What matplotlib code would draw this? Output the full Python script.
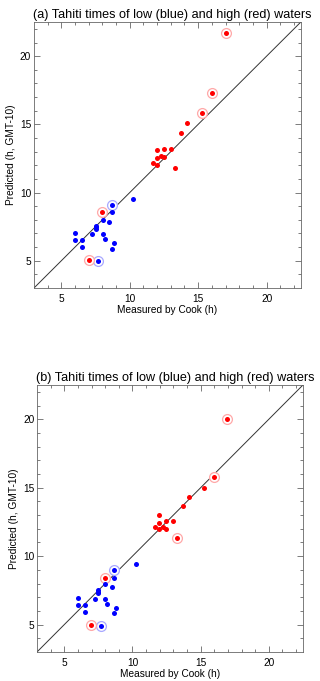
import numpy as np
import matplotlib
matplotlib.use('Agg')
import matplotlib.pyplot as plt

plt.rcParams['font.family'] = ['Liberation Sans', 'DejaVu Sans']

# panel (a): high waters (red)
red_x_a = [17.0, 16.02, 15.27, 14.19, 13.75, 13.02, 12.51, 12.02, 12.26, 12.51, 12.02, 11.68, 12.02, 13.29, 8.0, 7.02]
red_y_a = [21.68, 17.29, 15.82, 15.07, 14.39, 13.22, 13.17, 13.12, 12.66, 12.63, 12.53, 12.2, 12.05, 11.8, 8.54, 5.07]
red_ring_a = [1, 1, 1, 0, 0, 0, 0, 0, 0, 0, 0, 0, 0, 0, 1, 1]
# panel (a): low waters (blue)
blue_x_a = [10.26, 8.68, 8.68, 8.02, 8.49, 7.51, 7.51, 7.51, 6.0, 7.27, 8.02, 8.19, 6.0, 6.53, 8.85, 6.51, 8.68, 7.7]
blue_y_a = [9.51, 9.12, 8.54, 8.0, 7.83, 7.55, 7.45, 7.35, 7.05, 6.97, 6.93, 6.58, 6.51, 6.49, 6.27, 6.0, 5.9, 4.98]
blue_ring_a = [0, 1, 0, 0, 0, 0, 0, 0, 0, 0, 0, 0, 0, 0, 0, 0, 0, 1]

# panel (b)
red_x_b = [16.97, 15.97, 15.24, 14.17, 13.73, 11.98, 12.97, 12.49, 11.98, 11.63, 12.24, 11.98, 12.49, 13.24, 7.97, 6.95]
red_y_b = [20.04, 15.78, 15.0, 14.32, 13.66, 13.02, 12.56, 12.56, 12.44, 12.14, 12.14, 12.0, 12.0, 11.34, 8.44, 5.0]
red_ring_b = [1, 1, 0, 0, 0, 0, 0, 0, 0, 0, 0, 0, 0, 1, 1, 1]
blue_x_b = [10.24, 8.68, 8.68, 8.0, 8.49, 7.49, 7.49, 7.49, 5.98, 7.24, 8.0, 8.15, 5.98, 6.49, 8.83, 6.49, 8.66, 7.66]
blue_y_b = [9.46, 9.02, 8.44, 7.95, 7.75, 7.5, 7.4, 7.3, 6.97, 6.88, 6.85, 6.53, 6.46, 6.44, 6.2, 5.93, 5.85, 4.88]
blue_ring_b = [0, 1, 0, 0, 0, 0, 0, 0, 0, 0, 0, 0, 0, 0, 0, 0, 0, 1]

lims = [3, 22.5]
major_ticks = [5, 10, 15, 20]


def draw_panel(ax, title, rx, ry, rring, bx, by, bring):
    ax.plot(lims, lims, color='#333333', lw=0.7, zorder=1)
    for xs, ys, rings, col, ringcol in [(bx, by, bring, 'blue', '#a8a8ff'),
                                         (rx, ry, rring, 'red', '#ffa8a8')]:
        xs = np.array(xs)
        ys = np.array(ys)
        rings = np.array(rings, dtype=bool)
        ax.scatter(xs[rings], ys[rings], s=50, facecolors='white',
                   edgecolors=ringcol, linewidths=0.9, zorder=2)
        ax.scatter(xs, ys, s=13, color=col, linewidths=0, zorder=3)
    ax.set_xlim(lims)
    ax.set_ylim(lims)
    ax.set_xticks(major_ticks)
    ax.set_yticks(major_ticks)
    ax.set_xticks(np.arange(4, 23), minor=True)
    ax.set_yticks(np.arange(4, 23), minor=True)
    ax.tick_params(which='both', direction='in', top=True, right=True,
                   width=0.6, color='#666666', labelsize=7.3)
    ax.tick_params(which='major', length=4)
    ax.tick_params(which='minor', length=2)
    ax.tick_params(axis='x', pad=4)
    ax.tick_params(axis='y', pad=2)
    for sp in ax.spines.values():
        sp.set_linewidth(0.6)
        sp.set_color('#666666')
    ax.set_xlabel('Measured by Cook (h)', fontsize=7.3, labelpad=1)
    ax.set_ylabel('Predicted (h, GMT-10)', fontsize=7.3, labelpad=3)
    ax.set_title(title, fontsize=9.1, loc='left', pad=3, x=-0.003)


fig = plt.figure(figsize=(3.2, 6.81), dpi=100)
ax1 = fig.add_axes([0.106, 0.577, 0.834, 0.3906])
ax2 = fig.add_axes([0.1156, 0.0426, 0.831, 0.392])

draw_panel(ax1, '(a) Tahiti times of low (blue) and high (red) waters',
           red_x_a, red_y_a, red_ring_a, blue_x_a, blue_y_a, blue_ring_a)
draw_panel(ax2, '(b) Tahiti times of low (blue) and high (red) waters',
           red_x_b, red_y_b, red_ring_b, blue_x_b, blue_y_b, blue_ring_b)

fig.savefig('out.png', dpi=100)
